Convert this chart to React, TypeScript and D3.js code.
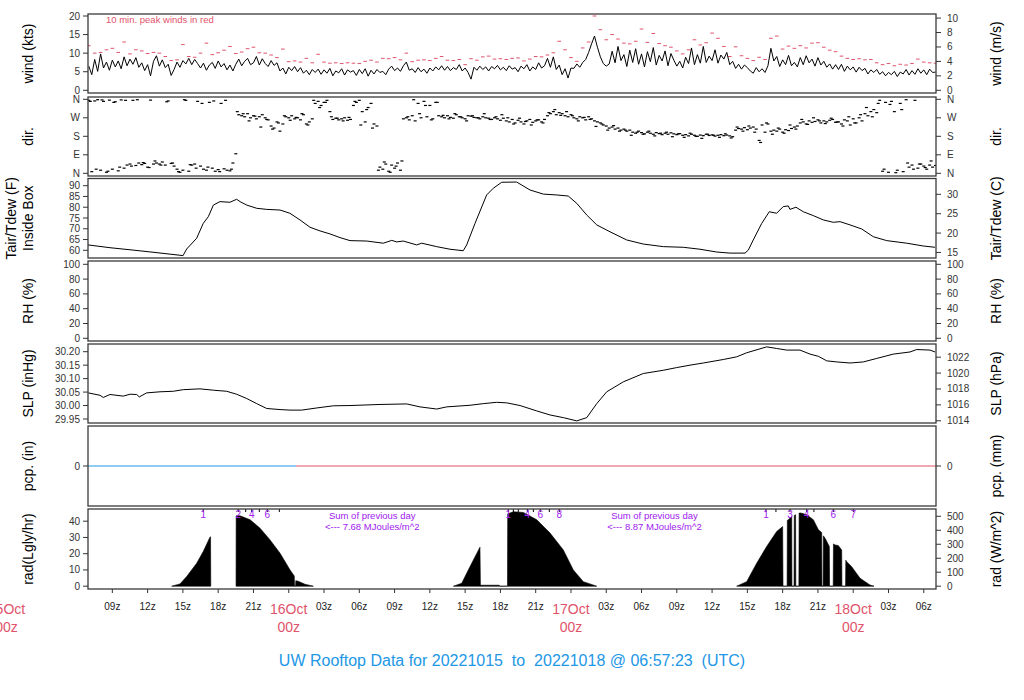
import React from 'react';
import * as d3 from 'd3';

// ---------------- DATA (time = hours since 2022-10-15 00Z) ----------------
const windStartHour = 7.0;
const windStepHours = 0.25;
const windKts = [
  6.5, 4.2, 8.3, 5.1, 9.8, 6.0, 7.6, 5.4, 8.1, 6.3,
  7.9, 5.8, 9.0, 6.6, 8.4, 7.0, 8.8, 6.2, 7.4, 5.3,
  6.9, 3.9, 7.8, 9.3, 6.5, 8.2, 6.1, 7.0, 4.0, 5.6,
  7.6, 6.2, 8.0, 7.1, 8.6, 6.9, 8.3, 7.2, 6.0, 7.3,
  5.4, 6.8, 7.5, 5.9, 7.9, 6.3, 7.2, 5.5, 6.8, 5.2,
  7.0, 8.4, 6.6, 7.8, 8.6, 6.9, 7.4, 9.1, 6.8, 8.5,
  7.2, 6.4, 8.0, 6.7, 7.4, 5.2, 6.0, 4.4, 6.2, 5.3,
  6.4, 5.0, 6.1, 4.6, 5.4, 4.2, 5.6, 4.8, 5.7, 4.3,
  5.5, 4.6, 5.9, 3.9, 5.2, 4.7, 5.8, 4.1, 5.5, 4.9,
  5.3, 4.0, 5.6, 4.5, 5.8, 3.8, 5.4, 4.4, 5.6, 4.8,
  5.1, 4.2, 5.7, 6.5, 5.3, 6.0, 5.1, 6.6, 7.6, 5.4,
  5.8, 4.8, 6.1, 5.0, 5.7, 4.6, 6.0, 5.2, 6.3, 5.5,
  6.6, 5.4, 6.4, 5.3, 6.1, 5.6, 6.9, 5.2, 6.0, 4.8,
  3.0, 6.2, 5.4, 6.5, 5.6, 6.3, 5.2, 6.4, 5.8, 6.7,
  5.5, 6.2, 5.3, 6.6, 5.7, 6.1, 5.0, 6.5, 5.8, 6.9,
  5.2, 6.3, 5.6, 7.4, 6.0, 6.6, 8.6, 6.2, 9.0, 5.6,
  6.8, 4.2, 5.8, 3.3, 6.0, 5.9, 7.1, 6.2, 7.5, 8.3,
  10.2, 12.5, 14.6, 11.6, 9.0, 7.2, 6.5, 7.1, 10.5, 7.4,
  11.8, 8.0, 9.6, 6.4, 10.8, 7.5, 11.2, 7.0, 9.8, 6.3,
  10.4, 7.7, 11.5, 6.8, 9.4, 7.9, 10.6, 6.6, 9.9, 8.1,
  6.5, 7.8, 6.0, 8.9, 7.2, 11.4, 6.9, 9.6, 7.3, 11.8,
  7.5, 9.2, 8.0, 10.9, 7.3, 9.5, 8.4, 10.2, 6.9, 7.8,
  5.9, 7.0, 5.7, 6.8, 6.1, 5.2, 4.6, 6.1, 5.0, 5.8,
  4.8, 6.6, 11.3, 7.9, 9.1, 6.4, 8.2, 6.9, 9.4, 6.6,
  7.5, 6.3, 8.8, 6.9, 9.3, 7.4, 8.4, 6.5, 8.8, 6.8,
  7.8, 6.2, 7.1, 5.7, 6.9, 5.6, 7.0, 5.1, 6.5, 5.5,
  6.3, 4.9, 6.2, 5.3, 5.9, 4.4, 5.5, 4.8, 5.6, 4.3,
  5.0, 3.9, 4.8, 4.2, 5.1, 3.7, 4.9, 4.4, 5.6, 4.1,
  5.3, 4.3, 5.8, 4.6, 5.5, 4.2, 5.7, 4.8, 4.9,
];

const peakStartHour = 7.0;
const peakStepHours = 0.5;
const peakKts = [
  12.0, 10.0, 10.2, 10.9, 11.3, 10.2, 13.0, 9.8, 10.9, 10.6,
  9.9, 10.2, 10.0, 9.1, 8.0, 8.2, 12.3, 9.1, 8.9, 10.0,
  12.7, 9.6, 10.1, 10.8, 11.8, 9.9, 10.3, 11.2, 11.6, 10.1,
  10.0, 9.5, 8.8, 11.1, 7.7, 7.9, 7.6, 8.6, 7.4, 9.7,
  7.6, 7.3, 7.4, 7.2, 7.4, 7.3, 7.2, 7.8, 8.1, 7.6,
  8.6, 8.5, 8.8, 8.2, 10.0, 7.7, 8.1, 8.2, 8.0, 8.6,
  9.1, 8.1, 8.0, 8.3, 6.9, 8.5, 8.1, 9.0, 9.2, 8.4,
  8.5, 8.3, 8.6, 8.7, 7.9, 8.4, 9.1, 9.0, 9.5, 10.1,
  13.2, 10.9, 8.8, 7.8, 11.4, 13.0, 20.0, 16.3, 13.6, 15.0,
  13.8, 12.7, 12.5, 13.2, 16.5, 12.9, 15.3, 12.6, 12.0, 11.6,
  10.6, 9.8, 10.9, 13.6, 12.2, 12.8, 15.4, 14.0, 11.8, 9.1,
  11.7, 9.3, 8.6, 8.0, 8.9, 8.3, 14.0, 14.6, 11.1, 11.9,
  11.3, 12.0, 11.4, 12.7, 12.8, 11.6, 10.8, 10.4, 9.2, 8.6,
  8.3, 8.5, 8.2, 8.3, 7.4, 6.9, 7.2, 6.6, 7.0, 6.8,
  7.2, 8.4, 7.6, 7.4, 7.3,
];

const dirStartHour = 7.0;
const dirStepHours = 0.25;
const dirDeg = [
  355, 8, 352, 358, 15, 350, 5, 356, 20, 348, 12, 357, 25,
  40, 45, 355, 38, 50, 42, 48, 30, 356, 45,
  50, 45, 55, 40, 352, 48, 35,
  20, 5, 15, 355, 10,
  40, 45, 350, 35,
  20, 15, 345, 25, 10, 18, 340, 22, 15, 12,
  50, 95,
  285, 280, 275, 290, 270, 280, 265, 275, 285, 270, 260,
  230, 220, 250, 205, 240,
  275, 270, 280, 265, 270, 260, 285,
  240, 250, 265,
  340, 350, 330, 345, 355, 300,
  262, 268, 260, 265, 270, 258, 262,
  330, 345, 355, 300, 250, 320, 340, 240, 230,
  30, 20, 45, 10, 40, 25, 50, 15,
  265, 270, 260, 280, 255,
  340, 270, 350, 275, 330, 265, 345, 280,
  275, 270, 280, 272, 268, 285, 275, 270, 265, 280, 278, 272, 270, 265, 275, 270, 268, 262, 270, 265, 258, 268,
  255, 250, 262, 245, 258, 250, 240, 255, 262, 248, 255, 260, 250, 262,
  280, 290, 300, 285, 295, 290, 280, 275, 285,
  270, 265, 275, 270, 260, 275, 265, 255, 250, 245,
  235, 230, 220, 225, 215, 220, 210, 215, 205, 210,
  200, 195, 205, 198, 192, 200, 195, 190, 198, 193, 188, 195, 190, 197, 192, 188, 193,
  185, 188, 182, 190, 185, 180, 186, 183, 190, 184, 187, 181, 185, 188, 183, 186, 182, 178,
  210, 218, 215, 222, 212, 220, 225, 215,
  160, 235, 200, 240, 205,
  210, 205, 215, 200, 212, 208, 218, 225, 230,
  245, 250, 240, 255, 248, 252, 260, 245, 255, 250, 258, 262, 248,
  250, 240, 260, 255, 235, 265, 245, 270, 255,
  290, 280, 300, 310, 295,
  355, 10, 345, 5, 350, 300, 15, 340, 8, 358,
  30, 40, 355, 25, 45, 35, 20, 40, 30, 38,
];

// additional (interleaved) direction readings showing the scatter
const dirExtraStartHour = 7.125;
const dirExtraStepHours = 0.5;
const dirExtraDeg = [
  350, 20, 357, 10, 345, 30, 355,
  35, 358, 52, 28,
  60, 40, 348, 50,
  8, 358, 42, 25,
  340, 30, 352, 8, 355, 20,
  300,
  290, 255, 278, 225, 262,
  215, 245, 280, 258,
  272, 290, 235,
  355, 320, 345, 275,
  268, 255, 272,
  350, 235, 310, 220,
  15, 55, 5, 35, 60,
  275, 358, 290,
  330, 260, 345, 282,
  265, 290, 275, 255, 280, 270, 290, 262, 275, 285, 270,
  240, 268, 252, 235, 260, 245,
  295, 310, 282, 300,
  280, 255, 272, 262,
  228, 240, 210, 232, 205,
  210, 185, 200, 190, 205, 182, 195, 200,
  178, 192, 175, 195, 180, 170, 190, 185, 175, 192, 172,
  225, 205, 230, 200,
  150, 245, 190,
  220, 195, 235, 215,
  262, 238, 270, 255, 242, 268, 250,
  230, 275, 245, 285,
  320, 275, 340,
  20, 335, 3, 310,
  50, 20, 45, 28, 60,
];

const tempHours = [
  6.93, 8.80, 10.76, 12.46, 14.75, 15.01, 15.32, 16.17, 16.73, 17.16,
  17.59, 18.15, 19.00, 19.57, 19.86, 20.43, 21.28, 22.13, 23.26, 24.10,
  24.96, 25.81, 26.66, 27.51, 28.36, 29.21, 30.63, 32.04, 32.76, 33.18,
  33.74, 34.88, 35.31, 36.58, 37.71, 38.84, 39.13, 39.84, 40.83, 41.39,
  42.11, 43.38, 44.52, 45.65, 46.79, 47.77, 48.49, 49.34, 50.19, 51.32,
  52.74, 54.15, 55.85, 57.55, 58.97, 60.39, 61.52, 62.80, 63.08, 63.50,
  64.22, 64.86, 65.49, 66.05, 66.48, 66.62, 67.13, 67.76, 68.61, 69.46,
  70.31, 70.88, 71.73, 72.72, 73.71, 74.85, 76.55, 77.96, 78.95,
];
const tempF = [
  62.5, 61.2, 60.1, 59.1, 57.7, 57.5, 60.6, 65.6, 72.5, 75.6,
  81.0, 82.6, 82.3, 83.7, 82.6, 81.0, 79.5, 79.0, 78.7, 77.2,
  74.1, 70.7, 69.0, 67.6, 65.9, 64.5, 64.3, 63.3, 64.6, 63.9,
  64.3, 62.5, 63.3, 61.7, 60.5, 59.8, 62.5, 72.5, 85.7, 88.8,
  91.6, 91.7, 88.0, 86.1, 85.7, 85.2, 81.8, 76.4, 71.8, 68.6,
  64.8, 62.9, 61.7, 61.4, 60.5, 59.2, 58.7, 58.7, 60.1, 64.8,
  72.5, 77.9, 77.2, 80.3, 80.6, 79.0, 80.0, 77.9, 76.1, 74.1,
  73.0, 73.3, 71.8, 69.9, 66.3, 64.5, 63.3, 62.0, 61.4,
];

const slpHours = [
  6.96, 7.95, 8.23, 8.80, 9.93, 10.50, 11.07, 11.29, 11.92, 13.05,
  14.18, 15.03, 16.45, 17.59, 18.72, 19.57, 20.43, 21.28, 22.13, 23.26,
  24.11, 25.10, 26.38, 27.79, 29.21, 31.76, 34.03, 35.16, 36.58, 37.43,
  39.41, 40.54, 41.68, 42.53, 43.67, 45.09, 46.22, 47.35, 48.49, 49.34,
  50.19, 51.04, 52.45, 54.15, 55.85, 56.99, 58.12, 59.25, 60.95, 62.09,
  62.94, 64.64, 65.49, 66.34, 67.47, 68.33, 69.03, 69.75, 70.60, 71.73,
  72.86, 74.00, 75.41, 76.83, 77.40, 78.53, 78.96,
];
const slpInHg = [
  30.047, 30.038, 30.030, 30.041, 30.035, 30.042, 30.041, 30.032, 30.047, 30.051,
  30.053, 30.059, 30.062, 30.057, 30.053, 30.042, 30.026, 30.007, 29.989, 29.985,
  29.983, 29.983, 29.991, 29.999, 30.000, 30.004, 30.006, 29.995, 29.987, 29.995,
  30.001, 30.007, 30.012, 30.010, 30.000, 29.980, 29.965, 29.955, 29.943, 29.955,
  30.007, 30.051, 30.088, 30.119, 30.131, 30.141, 30.150, 30.158, 30.171, 30.181,
  30.196, 30.218, 30.212, 30.206, 30.206, 30.191, 30.183, 30.166, 30.162, 30.158,
  30.162, 30.175, 30.191, 30.199, 30.208, 30.206, 30.199,
];

const pcpHours = [6.93, 24.62, 79.04];
const pcpInches = [0, 0, 0];

const radHours = [
  14.05, 14.75, 15.32, 16.17, 16.73, 17.30, 17.35, 17.37,
  19.52, 19.53, 19.86, 20.71, 21.56, 22.41, 23.26, 24.11, 24.47, 24.49, 24.58, 24.60, 24.81, 25.38, 26.09,
  38.00, 38.71, 39.41, 40.26, 40.30, 40.32, 41.90, 41.95,
  42.60, 42.62, 43.10, 43.95, 45.09, 46.22, 47.35, 48.20, 49.05, 50.19,
  62.09, 62.94, 63.79, 64.64, 65.49, 66.00, 66.03, 66.38, 66.40, 66.48, 66.77, 66.79, 66.97, 66.99, 67.10,
  67.12, 67.38, 67.40, 67.56, 68.04, 68.61, 69.04, 69.32, 69.34, 69.44, 69.46, 69.60, 69.97, 69.99, 70.30,
  70.32, 70.45, 70.73, 71.02, 71.04, 71.35, 71.37, 71.45, 71.87, 72.58, 73.43, 73.77,
];
const radLy = [
  0, 1.4, 5.9, 14.1, 21.3, 30.2, 30.4, 0,
  0, 43.3, 43.3, 40.9, 35.7, 28.5, 20.3, 10.0, 6.3, 0, 0, 3.4, 3.0, 1.2, 0,
  0, 1.8, 12.0, 24.0, 0, 0.6, 0.6, 0,
  0, 44.5, 45.8, 45.4, 40.9, 32.7, 22.3, 10.0, 2.8, 0,
  0, 2.8, 14.1, 24.4, 33.6, 36.7, 0, 0, 40.5, 40.9, 42.9, 0, 0, 43.5, 44.0,
  0, 0, 45.0, 45.0, 44.0, 40.9, 34.7, 33.0, 0, 0, 31.0, 29.6, 24.4, 0, 0,
  26.0, 25.4, 25.0, 22.3, 0, 0, 16.0, 15.1, 12.0, 4.9, 0.7, 0,
];

// cumulative-energy markers (MJ/m^2) along the top of the radiation panel
const radMarkHours = [
  16.73, 19.71, 20.34, 20.85, 21.50, 22.18, 23.20,
  42.67, 43.10, 43.52, 44.29, 44.80, 45.39, 46.16, 47.01,
  64.58, 65.43, 66.62, 68.04, 68.66, 70.31, 72.01,
];
const radMarkLabels = [
  '1', '2', '', '4', '', '6', '',
  '1', '', '', '4', '', '6', '', '8',
  '1', '', '3', '4', '', '6', '7',
];
const dailySumHours = [31.1, 55.1];
const dailySumMJ = ['7.68', '8.87'];

const xTickHours = [9, 12, 15, 18, 21, 27, 30, 33, 36, 39, 42, 45, 51, 54, 57, 60, 63, 66, 69, 75, 78];
const xTickLabels = ['09z', '12z', '15z', '18z', '21z', '03z', '06z', '09z', '12z', '15z', '18z', '21z', '03z', '06z', '09z', '12z', '15z', '18z', '21z', '03z', '06z'];
const dateHours = [0, 24, 48, 72];
const dateLabels = ['15Oct', '16Oct', '17Oct', '18Oct'];

const windTicks = [0, 5, 10, 15, 20];
const windMsTicks = [0, 2, 4, 6, 8, 10];
const dirTicks = [0, 90, 180, 270, 360];
const dirTickLabels = ['N', 'E', 'S', 'W', 'N'];
const tempFTicks = [60, 65, 70, 75, 80, 85, 90];
const tempCTicks = [15, 20, 25, 30];
const rhTicks = [0, 20, 40, 60, 80, 100];
const slpTicks = [29.95, 30.0, 30.05, 30.1, 30.15, 30.2];
const hPaTicks = [1014, 1016, 1018, 1020, 1022];
const pcpTicks = [0];
const radTicks = [0, 10, 20, 30, 40];
const radWTicks = [0, 100, 200, 300, 400, 500];

// ---------------- LAYOUT ----------------
const FONT = "'Liberation Sans', Arial, Helvetica, sans-serif";
const X0 = 88;
const X1 = 936;
const RED = '#DF536B';
const BLUE = '#2297E6';
const PURPLE = '#A020F0';

const P = {
  wind: [14, 93],
  dir: [97, 176],
  temp: [178.5, 258],
  rh: [261, 341],
  slp: [344, 423],
  pcp: [426, 506],
  rad: [509, 589],
};

const x = d3.scaleLinear().domain([6.93, 79.04]).range([X0, X1]);
const yWind = d3.scaleLinear().domain([0, 20]).range([90.3, 16]);
const yDir = d3.scaleLinear().domain([0, 360]).range([173.3, 99.3]);
const yTemp = d3.scaleLinear().domain([60, 90]).range([250.3, 185.7]);
const yRH = d3.scaleLinear().domain([0, 100]).range([338.3, 264.3]);
const ySlp = d3.scaleLinear().domain([29.95, 30.2]).range([419, 351.7]);
const yPcp = d3.scaleLinear().domain([-1, 1]).range([506, 426]);
const yRad = d3.scaleLinear().domain([0, 40]).range([586.2, 521.2]);

function LeftAxis({ ys, ticks, labels }: { ys: (v: number) => number; ticks: number[]; labels: string[] }) {
  return (
    <g>
      {ticks.map((t, i) => (
        <g key={i}>
          <line x1={X0 - 5} x2={X0} y1={ys(t)} y2={ys(t)} stroke="#333" strokeWidth={1} />
          <text x={X0 - 8} y={ys(t)} textAnchor="end" dominantBaseline="central" fontSize={10} fill="#333" fontFamily={FONT}>
            {labels[i]}
          </text>
        </g>
      ))}
    </g>
  );
}

function RightAxis({ ys, ticks, labels }: { ys: (v: number) => number; ticks: number[]; labels: string[] }) {
  return (
    <g>
      {ticks.map((t, i) => (
        <g key={i}>
          <line x1={X1} x2={X1 + 5} y1={ys(t)} y2={ys(t)} stroke="#333" strokeWidth={1} />
          <text x={X1 + 11} y={ys(t)} textAnchor="start" dominantBaseline="central" fontSize={10} fill="#333" fontFamily={FONT}>
            {labels[i]}
          </text>
        </g>
      ))}
    </g>
  );
}

function SideTitle({ cx, cy, lines }: { cx: number[]; cy: number; lines: string[] }) {
  return (
    <g>
      {lines.map((s, i) => (
        <text key={i} x={cx[i]} y={cy} transform={`rotate(-90 ${cx[i]} ${cy})`} textAnchor="middle" dominantBaseline="central" fontSize={14} fill="#000" fontFamily={FONT}>
          {s}
        </text>
      ))}
    </g>
  );
}

export default function App() {
  const keys = Object.keys(P) as (keyof typeof P)[];

  const windLine = d3.line<number>()
    .x((_, i) => x(windStartHour + i * windStepHours))
    .y((d) => yWind(d))(windKts) || '';

  const tempLine = d3.line<number>()
    .x((_, i) => x(tempHours[i]))
    .y((d) => yTemp(d))(tempF) || '';

  const slpLine = d3.line<number>()
    .x((_, i) => x(slpHours[i]))
    .y((d) => ySlp(d))(slpInHg) || '';

  // split radiation record into daylight segments (break on long night gaps)
  const radSegments: number[][] = [];
  radHours.forEach((h, i) => {
    if (i === 0 || h - radHours[i - 1] > 2) radSegments.push([]);
    radSegments[radSegments.length - 1].push(i);
  });
  const radAreaGen = d3.area<number>()
    .x((i) => x(radHours[i]))
    .y0(yRad(0))
    .y1((i) => yRad(radLy[i]));

  const mid = (k: keyof typeof P) => (P[k][0] + P[k][1]) / 2;
  const kt = 1.94384;

  return (
    <svg width={1024} height={700} style={{ position: 'absolute', left: 0, top: 0, background: '#fff' }} fontFamily={FONT}>
      <defs>
        {keys.map((k) => (
          <clipPath id={`clip-${k}`} key={k}>
            <rect x={X0} y={P[k][0]} width={X1 - X0} height={P[k][1] - P[k][0]} />
          </clipPath>
        ))}
      </defs>
      <rect x={0} y={0} width={1024} height={700} fill="#fff" />

      {/* wind */}
      <g clipPath="url(#clip-wind)">
        {peakKts.map((v, i) => {
          const cx = x(peakStartHour + i * peakStepHours);
          return <line key={i} x1={cx - 1.8} x2={cx + 1.8} y1={yWind(v)} y2={yWind(v)} stroke={RED} strokeWidth={1} />;
        })}
        <path d={windLine} fill="none" stroke="#000" strokeWidth={1} strokeLinejoin="round" />
      </g>
      <text x={106} y={19} fontSize={9.5} fill={RED} dominantBaseline="central">10 min. peak winds in red</text>

      {/* direction */}
      <g clipPath="url(#clip-dir)">
        {dirDeg.map((v, i) => {
          const cx = x(dirStartHour + i * dirStepHours);
          return <rect key={i} x={cx - 1.5} y={yDir(v) - 0.6} width={3} height={1.2} fill="#000" />;
        })}
        {dirExtraDeg.map((v, i) => {
          const cx = x(dirExtraStartHour + i * dirExtraStepHours);
          return <rect key={`e${i}`} x={cx - 1.5} y={yDir(v) - 0.6} width={3} height={1.2} fill="#000" />;
        })}
      </g>

      {/* temperature */}
      <g clipPath="url(#clip-temp)">
        <path d={tempLine} fill="none" stroke="#000" strokeWidth={1} />
      </g>

      {/* SLP */}
      <g clipPath="url(#clip-slp)">
        <path d={slpLine} fill="none" stroke="#000" strokeWidth={1} />
      </g>

      {/* precipitation */}
      <g clipPath="url(#clip-pcp)">
        <line x1={x(pcpHours[0])} x2={x(pcpHours[1])} y1={yPcp(pcpInches[0])} y2={yPcp(pcpInches[1])} stroke={BLUE} strokeWidth={1.2} />
        <line x1={x(pcpHours[1])} x2={x(pcpHours[2])} y1={yPcp(pcpInches[1])} y2={yPcp(pcpInches[2])} stroke={RED} strokeWidth={1.2} />
      </g>

      {/* radiation */}
      <g clipPath="url(#clip-rad)">
        {radSegments.map((seg, k) => (
          <path key={k} d={radAreaGen(seg) || ''} fill="#000" stroke="#000" strokeWidth={0.6} />
        ))}
        {radMarkHours.map((h, i) => (
          <line key={i} x1={x(h)} x2={x(h)} y1={P.rad[0]} y2={P.rad[0] + 3} stroke="#000" strokeWidth={1} />
        ))}
      </g>
      {radMarkHours.map((h, i) =>
        radMarkLabels[i] ? (
          <text key={i} x={x(h)} y={514.5} textAnchor="middle" dominantBaseline="central" fontSize={10} fill={PURPLE}>
            {radMarkLabels[i]}
          </text>
        ) : null
      )}
      {dailySumHours.map((h, i) => (
        <g key={i}>
          <text x={x(h)} y={515} textAnchor="middle" dominantBaseline="central" fontSize={9.5} fill={PURPLE}>Sum of previous day</text>
          <text x={x(h)} y={526} textAnchor="middle" dominantBaseline="central" fontSize={9.5} fill={PURPLE} style={{ whiteSpace: 'pre' }}>{`<--- ${dailySumMJ[i]} MJoules/m^2`}</text>
        </g>
      ))}

      {/* panel frames */}
      {keys.map((k) => (
        <rect key={k} x={X0} y={P[k][0]} width={X1 - X0} height={P[k][1] - P[k][0]} fill="none" stroke="#3a3a3a" strokeWidth={1.3} />
      ))}

      {/* left axes */}
      <LeftAxis ys={yWind} ticks={windTicks} labels={windTicks.map(String)} />
      <LeftAxis ys={yDir} ticks={dirTicks} labels={dirTickLabels} />
      <LeftAxis ys={yTemp} ticks={tempFTicks} labels={tempFTicks.map(String)} />
      <LeftAxis ys={yRH} ticks={rhTicks} labels={rhTicks.map(String)} />
      <LeftAxis ys={ySlp} ticks={slpTicks} labels={slpTicks.map((v) => v.toFixed(2))} />
      <LeftAxis ys={yPcp} ticks={pcpTicks} labels={pcpTicks.map(String)} />
      <LeftAxis ys={yRad} ticks={radTicks} labels={radTicks.map(String)} />

      {/* right axes */}
      <RightAxis ys={(v) => yWind(v * kt)} ticks={windMsTicks} labels={windMsTicks.map(String)} />
      <RightAxis ys={yDir} ticks={dirTicks} labels={dirTickLabels} />
      <RightAxis ys={(c) => yTemp(c * 9 / 5 + 32)} ticks={tempCTicks} labels={tempCTicks.map(String)} />
      <RightAxis ys={yRH} ticks={rhTicks} labels={rhTicks.map(String)} />
      <RightAxis ys={(h) => ySlp(h / 33.8639)} ticks={hPaTicks} labels={hPaTicks.map(String)} />
      <RightAxis ys={(m) => yPcp(m / 25.4)} ticks={pcpTicks} labels={pcpTicks.map(String)} />
      <RightAxis ys={(w) => yRad(w / 11.622)} ticks={radWTicks} labels={radWTicks.map(String)} />

      {/* side titles */}
      <SideTitle cx={[28]} cy={mid('wind')} lines={['wind (kts)']} />
      <SideTitle cx={[28]} cy={mid('dir')} lines={['dir.']} />
      <SideTitle cx={[11, 28]} cy={mid('temp')} lines={['Tair/Tdew (F)', 'Inside Box']} />
      <SideTitle cx={[28]} cy={mid('rh')} lines={['RH (%)']} />
      <SideTitle cx={[28]} cy={mid('slp')} lines={['SLP (inHg)']} />
      <SideTitle cx={[28]} cy={mid('pcp')} lines={['pcp. (in)']} />
      <SideTitle cx={[28]} cy={mid('rad')} lines={['rad(Lgly/hr)']} />

      <SideTitle cx={[996]} cy={mid('wind')} lines={['wind (m/s)']} />
      <SideTitle cx={[996]} cy={mid('dir')} lines={['dir.']} />
      <SideTitle cx={[996]} cy={mid('temp')} lines={['Tair/Tdew (C)']} />
      <SideTitle cx={[996]} cy={mid('rh')} lines={['RH (%)']} />
      <SideTitle cx={[996]} cy={mid('slp')} lines={['SLP (hPa)']} />
      <SideTitle cx={[996]} cy={mid('pcp')} lines={['pcp. (mm)']} />
      <SideTitle cx={[996]} cy={mid('rad')} lines={['rad (W/m^2)']} />

      {/* x axis */}
      {xTickHours.map((h, i) => (
        <g key={i}>
          <line x1={x(h)} x2={x(h)} y1={P.rad[1]} y2={P.rad[1] + 4} stroke="#333" />
          <text x={x(h)} y={606} textAnchor="middle" dominantBaseline="central" fontSize={10} fill="#222">{xTickLabels[i]}</text>
        </g>
      ))}
      {dateHours.map((h, i) => (
        <g key={i}>
          {h >= 6.93 ? <line x1={x(h)} x2={x(h)} y1={P.rad[1]} y2={P.rad[1] + 4} stroke="#333" /> : null}
          <text x={x(h)} y={609} textAnchor="middle" dominantBaseline="central" fontSize={14} fill={RED}>{dateLabels[i]}</text>
          <text x={x(h)} y={627} textAnchor="middle" dominantBaseline="central" fontSize={14} fill={RED}>00z</text>
        </g>
      ))}

      <text x={512} y={660} textAnchor="middle" dominantBaseline="central" fontSize={16} fill={BLUE} style={{ whiteSpace: 'pre' }}>
        {'UW Rooftop Data for 20221015  to  20221018 @ 06:57:23  (UTC)'}
      </text>
    </svg>
  );
}
